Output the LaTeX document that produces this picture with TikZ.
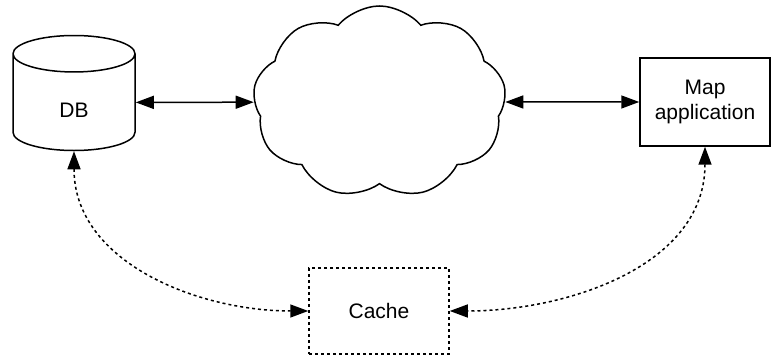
\documentclass[tikz,border=0pt]{standalone}
\usepackage{fontspec}
\setmainfont{Liberation Sans}
\usetikzlibrary{arrows.meta,shapes.geometric,shapes.symbols}

\begin{document}
\begin{tikzpicture}[x=1pt,y=1pt,line width=1.5pt,
    >={Triangle[length=18pt,width=13pt]},
    font=\fontsize{21}{25}\selectfont,
    every node/.style={draw,inner sep=0pt,align=center},
    store/.style={cylinder,shape border rotate=90,aspect=1.25,text height=31pt,text depth=0pt},
    box/.style={rectangle},
    cached/.style={dash pattern=on 3pt off 3pt}]

    \useasboundingbox (0,0) rectangle (771,355);

    \node[store,minimum width=122pt,minimum height=115pt] (db)    at (74,252.5)  {DB};
    \node[cloud,cloud puffs=9,cloud puff arc=100,minimum width=253pt,minimum height=192pt]
                                                        (net)   at (379.5,253) {};
    \node[box,minimum width=130pt,minimum height=88pt]   (map)   at (705,253)   {Map\\application};
    \node[box,cached,minimum width=140pt,minimum height=86pt] (cache) at (379,44) {Cache};

  \path[<->] (db)      edge (net)
             (net)     edge (map);
  \path[<->,cached]
             (db.south)  edge[out=-90,in=180] (cache.west)
             (map.south) edge[out=-90,in=0]   (cache.east);
\end{tikzpicture}
\end{document}
